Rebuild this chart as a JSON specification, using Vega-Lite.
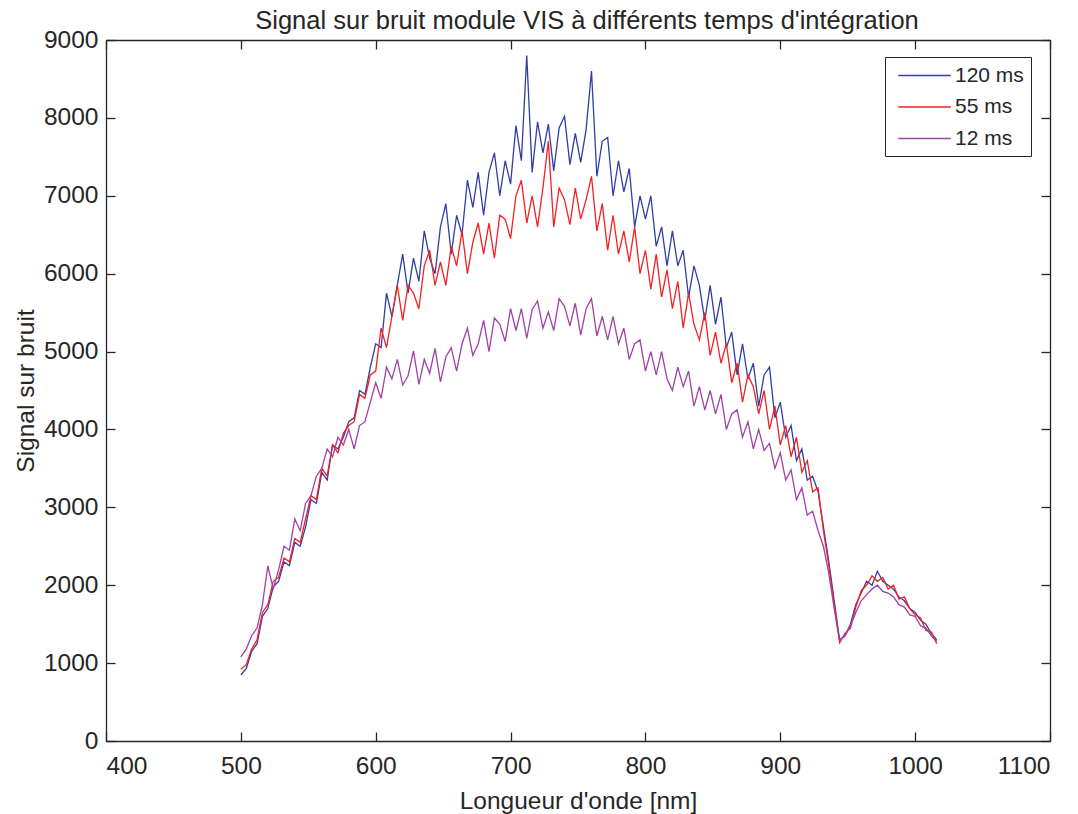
{
  "$schema": "https://vega.github.io/schema/vega-lite/v6.json",
  "autosize": {"type": "none"},
  "width": 944,
  "height": 701,
  "padding": {"left": 106, "top": 40, "right": 28, "bottom": 73},
  "background": "white",
  "config": {
    "font": "Liberation Sans",
    "view": {"stroke": null},
    "axis": {"grid": false, "domainColor": "#262626", "tickColor": "#262626", "labelColor": "#262626", "titleColor": "#262626", "labelFont": "Liberation Sans", "titleFont": "Liberation Sans", "labelFontSize": 24.5, "titleFontSize": 24.5, "titleFontWeight": "normal", "tickSize": -9, "domainWidth": 1.3, "tickWidth": 1.3}
  },
  "title": {"text": "Signal sur bruit module VIS à différents temps d'intégration", "fontSize": 25.5, "fontWeight": "normal", "color": "#262626", "font": "Liberation Sans", "anchor": "middle", "offset": -7, "dx": 9},
  "data": {"values": [
    {"w":500,"120 ms":850,"55 ms":920,"12 ms":1080},
    {"w":504,"120 ms":930,"55 ms":980,"12 ms":1180},
    {"w":508,"120 ms":1150,"55 ms":1180,"12 ms":1350},
    {"w":512,"120 ms":1250,"55 ms":1300,"12 ms":1450},
    {"w":516,"120 ms":1600,"55 ms":1650,"12 ms":1750},
    {"w":520,"120 ms":1700,"55 ms":1750,"12 ms":2250},
    {"w":524,"120 ms":1980,"55 ms":2050,"12 ms":1950},
    {"w":528,"120 ms":2050,"55 ms":2100,"12 ms":2200},
    {"w":532,"120 ms":2300,"55 ms":2350,"12 ms":2500},
    {"w":536,"120 ms":2250,"55 ms":2300,"12 ms":2450},
    {"w":540,"120 ms":2550,"55 ms":2600,"12 ms":2850},
    {"w":544,"120 ms":2500,"55 ms":2550,"12 ms":2700},
    {"w":548,"120 ms":2750,"55 ms":2850,"12 ms":3050},
    {"w":552,"120 ms":3100,"55 ms":3150,"12 ms":3150},
    {"w":556,"120 ms":3050,"55 ms":3100,"12 ms":3400},
    {"w":560,"120 ms":3450,"55 ms":3500,"12 ms":3500},
    {"w":564,"120 ms":3350,"55 ms":3400,"12 ms":3750},
    {"w":568,"120 ms":3800,"55 ms":3800,"12 ms":3650},
    {"w":572,"120 ms":3750,"55 ms":3700,"12 ms":3900},
    {"w":576,"120 ms":3900,"55 ms":3950,"12 ms":3800},
    {"w":580,"120 ms":4100,"55 ms":4050,"12 ms":4000},
    {"w":584,"120 ms":4150,"55 ms":4100,"12 ms":3750},
    {"w":588,"120 ms":4500,"55 ms":4450,"12 ms":4050},
    {"w":592,"120 ms":4450,"55 ms":4400,"12 ms":4100},
    {"w":596,"120 ms":4800,"55 ms":4700,"12 ms":4350},
    {"w":600,"120 ms":5100,"55 ms":4750,"12 ms":4600},
    {"w":604,"120 ms":5050,"55 ms":5300,"12 ms":4400},
    {"w":608,"120 ms":5750,"55 ms":5050,"12 ms":4800},
    {"w":612,"120 ms":5450,"55 ms":5450,"12 ms":4650},
    {"w":616,"120 ms":5850,"55 ms":5850,"12 ms":4900},
    {"w":620,"120 ms":6250,"55 ms":5400,"12 ms":4570},
    {"w":624,"120 ms":5750,"55 ms":5850,"12 ms":4690},
    {"w":628,"120 ms":6200,"55 ms":5750,"12 ms":5010},
    {"w":632,"120 ms":5900,"55 ms":5550,"12 ms":4580},
    {"w":636,"120 ms":6550,"55 ms":6100,"12 ms":4900},
    {"w":640,"120 ms":6200,"55 ms":6300,"12 ms":4720},
    {"w":644,"120 ms":6000,"55 ms":5850,"12 ms":5040},
    {"w":648,"120 ms":6600,"55 ms":6150,"12 ms":4610},
    {"w":652,"120 ms":6900,"55 ms":5850,"12 ms":4930},
    {"w":656,"120 ms":6250,"55 ms":6350,"12 ms":5050},
    {"w":660,"120 ms":6750,"55 ms":6100,"12 ms":4750},
    {"w":664,"120 ms":6500,"55 ms":6550,"12 ms":5100},
    {"w":668,"120 ms":7200,"55 ms":6000,"12 ms":5300},
    {"w":672,"120 ms":6850,"55 ms":6400,"12 ms":4950},
    {"w":676,"120 ms":7300,"55 ms":6650,"12 ms":5100},
    {"w":680,"120 ms":6750,"55 ms":6250,"12 ms":5400},
    {"w":684,"120 ms":7300,"55 ms":6650,"12 ms":5000},
    {"w":688,"120 ms":7550,"55 ms":6200,"12 ms":5430},
    {"w":692,"120 ms":7000,"55 ms":6750,"12 ms":5350},
    {"w":696,"120 ms":7450,"55 ms":6700,"12 ms":5130},
    {"w":700,"120 ms":7150,"55 ms":6450,"12 ms":5550},
    {"w":704,"120 ms":7900,"55 ms":7000,"12 ms":5270},
    {"w":708,"120 ms":7450,"55 ms":7200,"12 ms":5550},
    {"w":712,"120 ms":8800,"55 ms":6650,"12 ms":5170},
    {"w":716,"120 ms":7300,"55 ms":7000,"12 ms":5540},
    {"w":720,"120 ms":7950,"55 ms":6600,"12 ms":5650},
    {"w":724,"120 ms":7550,"55 ms":7100,"12 ms":5300},
    {"w":728,"120 ms":7920,"55 ms":7700,"12 ms":5510},
    {"w":732,"120 ms":7320,"55 ms":6600,"12 ms":5270},
    {"w":736,"120 ms":7870,"55 ms":7100,"12 ms":5680},
    {"w":740,"120 ms":8020,"55 ms":6950,"12 ms":5580},
    {"w":744,"120 ms":7400,"55 ms":6630,"12 ms":5330},
    {"w":748,"120 ms":7800,"55 ms":7100,"12 ms":5620},
    {"w":752,"120 ms":7430,"55 ms":6700,"12 ms":5210},
    {"w":756,"120 ms":7850,"55 ms":6950,"12 ms":5550},
    {"w":760,"120 ms":8600,"55 ms":7250,"12 ms":5680},
    {"w":764,"120 ms":7250,"55 ms":6550,"12 ms":5200},
    {"w":768,"120 ms":7700,"55 ms":6900,"12 ms":5450},
    {"w":772,"120 ms":7750,"55 ms":6300,"12 ms":5150},
    {"w":776,"120 ms":7000,"55 ms":6750,"12 ms":5450},
    {"w":780,"120 ms":7450,"55 ms":6250,"12 ms":5100},
    {"w":784,"120 ms":7050,"55 ms":6550,"12 ms":5300},
    {"w":788,"120 ms":7350,"55 ms":6150,"12 ms":4900},
    {"w":792,"120 ms":6600,"55 ms":6600,"12 ms":5100},
    {"w":796,"120 ms":7000,"55 ms":6000,"12 ms":5150},
    {"w":800,"120 ms":6700,"55 ms":6300,"12 ms":4750},
    {"w":804,"120 ms":7000,"55 ms":5800,"12 ms":5000},
    {"w":808,"120 ms":6350,"55 ms":6250,"12 ms":4700},
    {"w":812,"120 ms":6600,"55 ms":5700,"12 ms":5000},
    {"w":816,"120 ms":6100,"55 ms":6050,"12 ms":4650},
    {"w":820,"120 ms":6550,"55 ms":5550,"12 ms":4500},
    {"w":824,"120 ms":6100,"55 ms":5900,"12 ms":4800},
    {"w":828,"120 ms":6300,"55 ms":5300,"12 ms":4550},
    {"w":832,"120 ms":5700,"55 ms":5750,"12 ms":4750},
    {"w":836,"120 ms":6100,"55 ms":5350,"12 ms":4300},
    {"w":840,"120 ms":5850,"55 ms":5150,"12 ms":4550},
    {"w":844,"120 ms":5400,"55 ms":5500,"12 ms":4250},
    {"w":848,"120 ms":5850,"55 ms":4950,"12 ms":4500},
    {"w":852,"120 ms":5350,"55 ms":5250,"12 ms":4200},
    {"w":856,"120 ms":5700,"55 ms":4850,"12 ms":4450},
    {"w":860,"120 ms":5050,"55 ms":5100,"12 ms":4000},
    {"w":864,"120 ms":5250,"55 ms":4600,"12 ms":4200},
    {"w":868,"120 ms":4700,"55 ms":4850,"12 ms":4250},
    {"w":872,"120 ms":5100,"55 ms":4350,"12 ms":3900},
    {"w":876,"120 ms":4650,"55 ms":4700,"12 ms":4100},
    {"w":880,"120 ms":4850,"55 ms":4550,"12 ms":3750},
    {"w":884,"120 ms":4300,"55 ms":4200,"12 ms":4000},
    {"w":888,"120 ms":4700,"55 ms":4500,"12 ms":3730},
    {"w":892,"120 ms":4800,"55 ms":4000,"12 ms":3820},
    {"w":896,"120 ms":4150,"55 ms":4300,"12 ms":3500},
    {"w":900,"120 ms":4350,"55 ms":3800,"12 ms":3700},
    {"w":904,"120 ms":3900,"55 ms":4050,"12 ms":3350},
    {"w":908,"120 ms":4050,"55 ms":3650,"12 ms":3480},
    {"w":912,"120 ms":3600,"55 ms":3900,"12 ms":3100},
    {"w":916,"120 ms":3750,"55 ms":3450,"12 ms":3250},
    {"w":920,"120 ms":3350,"55 ms":3600,"12 ms":2900},
    {"w":924,"120 ms":3400,"55 ms":3200,"12 ms":2950},
    {"w":928,"120 ms":3200,"55 ms":3250,"12 ms":2700},
    {"w":932,"120 ms":2750,"55 ms":2700,"12 ms":2500},
    {"w":936,"120 ms":2300,"55 ms":2250,"12 ms":2150},
    {"w":940,"120 ms":1800,"55 ms":1750,"12 ms":1700},
    {"w":944,"120 ms":1300,"55 ms":1260,"12 ms":1290},
    {"w":948,"120 ms":1350,"55 ms":1380,"12 ms":1350},
    {"w":952,"120 ms":1500,"55 ms":1450,"12 ms":1480},
    {"w":956,"120 ms":1750,"55 ms":1720,"12 ms":1650},
    {"w":960,"120 ms":1900,"55 ms":1930,"12 ms":1800},
    {"w":964,"120 ms":2050,"55 ms":2000,"12 ms":1880},
    {"w":968,"120 ms":2000,"55 ms":2120,"12 ms":1950},
    {"w":972,"120 ms":2180,"55 ms":2050,"12 ms":2000},
    {"w":976,"120 ms":2050,"55 ms":2100,"12 ms":1920},
    {"w":980,"120 ms":2000,"55 ms":1950,"12 ms":1900},
    {"w":984,"120 ms":1950,"55 ms":2000,"12 ms":1850},
    {"w":988,"120 ms":1850,"55 ms":1820,"12 ms":1750},
    {"w":992,"120 ms":1800,"55 ms":1850,"12 ms":1720},
    {"w":996,"120 ms":1700,"55 ms":1700,"12 ms":1620},
    {"w":1000,"120 ms":1650,"55 ms":1620,"12 ms":1600},
    {"w":1004,"120 ms":1550,"55 ms":1580,"12 ms":1480},
    {"w":1008,"120 ms":1500,"55 ms":1420,"12 ms":1450},
    {"w":1012,"120 ms":1380,"55 ms":1400,"12 ms":1350},
    {"w":1016,"120 ms":1300,"55 ms":1250,"12 ms":1280}
  ]},
  "transform": [{"fold": ["120 ms", "55 ms", "12 ms"], "as": ["serie", "v"]}],
  "resolve": {"axis": {"x": "independent", "y": "independent"}},
  "layer": [
    {
      "mark": {"type": "line", "strokeWidth": 1.3},
      "encoding": {
        "x": {"field": "w", "type": "quantitative", "scale": {"domain": [400, 1100], "nice": false, "zero": false},
              "axis": {"orient": "bottom", "values": [400,500,600,700,800,900,1000,1100], "title": "Longueur d'onde [nm]", "labelPadding": 22, "titlePadding": 12, "format": "d"}},
        "y": {"field": "v", "type": "quantitative", "scale": {"domain": [0, 9000], "nice": false},
              "axis": {"orient": "left", "values": [0,1000,2000,3000,4000,5000,6000,7000,8000,9000], "title": "Signal sur bruit", "labelPadding": 17, "titlePadding": 5, "format": "d"}},
        "color": {"field": "serie", "type": "nominal", "sort": ["120 ms", "55 ms", "12 ms"],
                  "scale": {"domain": ["120 ms", "55 ms", "12 ms"], "range": ["#2f3fa6", "#f5201f", "#a040a8"]},
                  "legend": {"title": null, "orient": "none", "legendX": 779, "legendY": 17, "symbolType": "M-2.5,0H2.5", "symbolSize": 441, "symbolOffset": 21, "symbolStrokeWidth": 1.3, "labelFontSize": 21, "labelColor": "#262626", "labelFont": "Liberation Sans", "strokeColor": "#262626", "padding": 7, "rowPadding": 9.5, "labelOffset": 19, "fillColor": "white"}}
      }
    },
    {
      "mark": {"type": "line", "opacity": 0},
      "encoding": {
        "x": {"field": "w", "type": "quantitative", "axis": {"orient": "top", "values": [400,500,600,700,800,900,1000,1100], "labels": false, "title": null}},
        "y": {"field": "v", "type": "quantitative", "axis": {"orient": "right", "values": [0,1000,2000,3000,4000,5000,6000,7000,8000,9000], "labels": false, "title": null}},
        "detail": {"field": "serie"}
      }
    }
  ]
}
